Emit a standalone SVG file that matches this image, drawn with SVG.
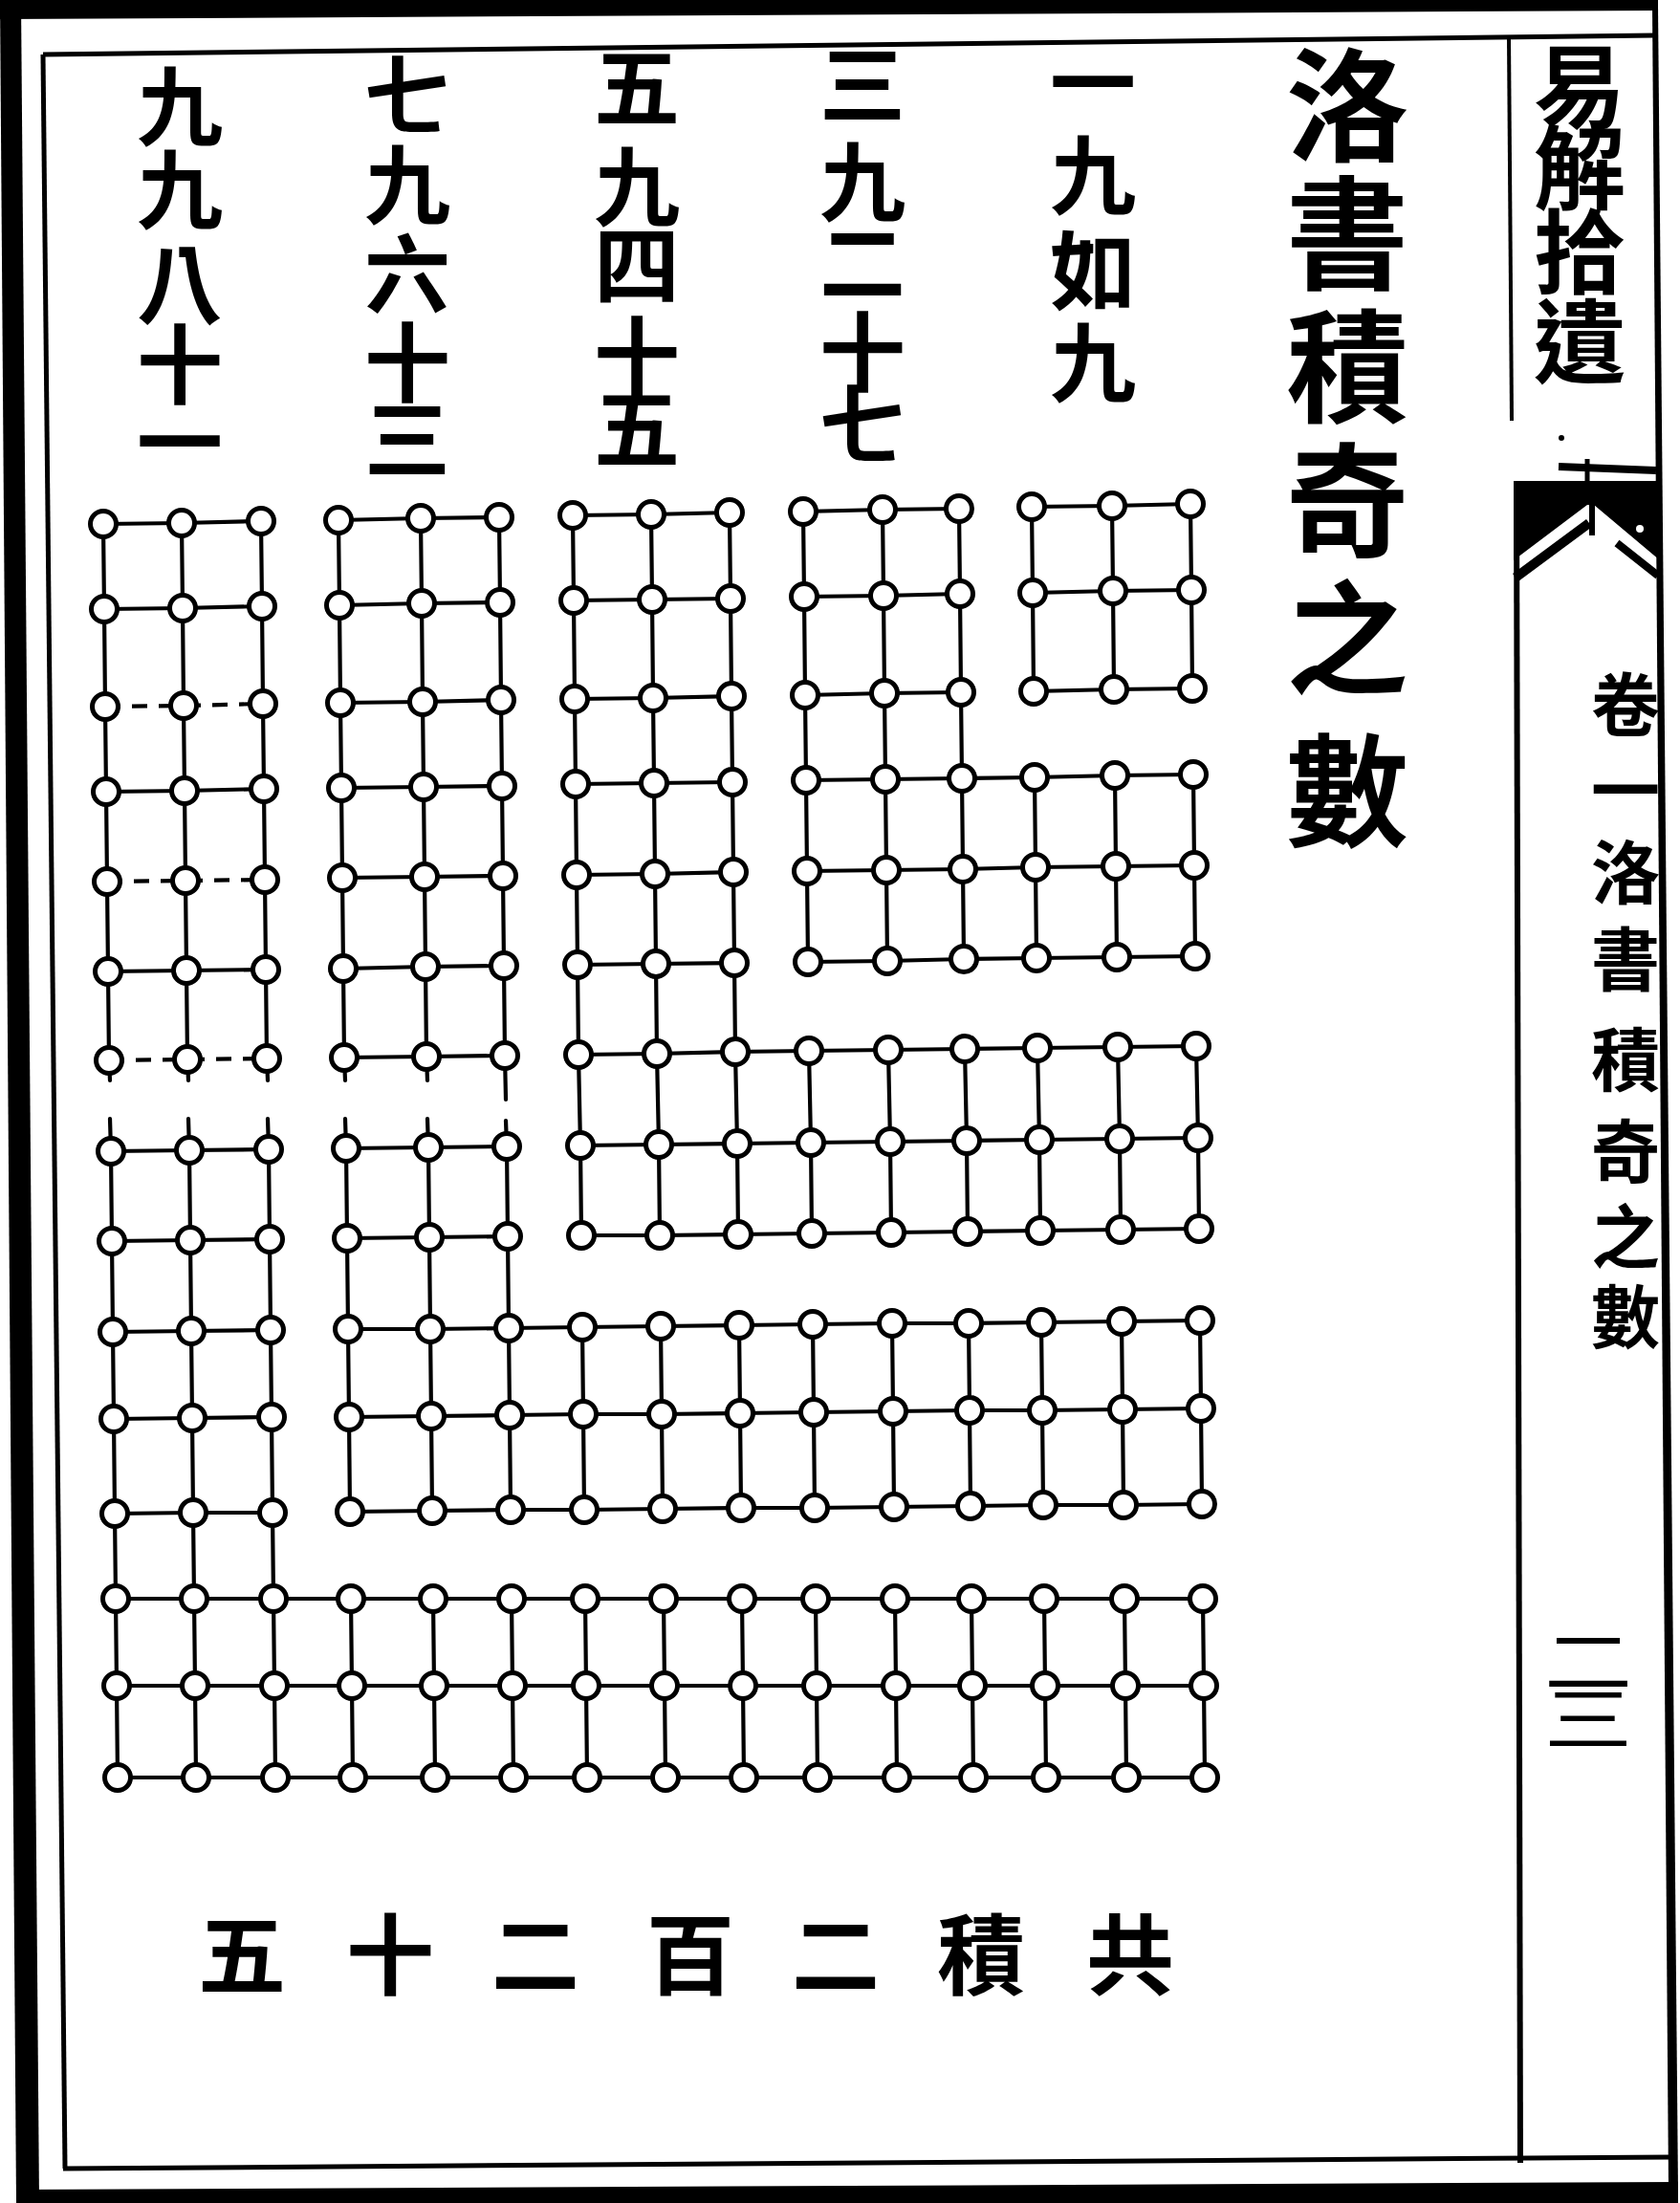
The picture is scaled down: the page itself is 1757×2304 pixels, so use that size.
<svg xmlns="http://www.w3.org/2000/svg" width="1757" height="2304" viewBox="0 0 1757 2304">
<style>
.ink{fill:#000}
.rule{stroke:#000;fill:none;stroke-linecap:butt}
.ln polyline,.ln line{stroke:#000;stroke-width:4.2;fill:none;stroke-linejoin:round;stroke-linecap:round}
.ln .brk{stroke-dasharray:16 12;stroke-linecap:butt}
.t{font-family:"Liberation Serif","Noto Sans CJK TC","Noto Sans CJK SC",serif;fill:#000;text-anchor:middle;dominant-baseline:central;font-weight:bold}
.col{font-size:90px}
.big{font-size:128px}
.hd{font-size:96px}
.sm{font-size:72px}
.tot{font-size:92px}
</style>
<defs>
<circle id="d" r="13.5" fill="#fff" stroke="#000" stroke-width="5"/>
</defs>
<rect width="1757" height="2304" fill="#fff"/>
<g id="frame">
<polygon class="ink" points="0,0 1734,0 1734,11 0,20"/>
<polygon class="ink" points="0,0 22,0 41,2304 17,2304"/>
<polygon class="ink" points="17,2290 1755,2282 1755,2304 17,2304"/>
<polygon class="ink" points="1728,6 1734,6 1755,2290 1745,2290"/>
<line class="rule" stroke-width="5" x1="45" y1="57" x2="1731" y2="37"/>
<line class="rule" stroke-width="5" x1="45" y1="57" x2="68" y2="2268"/>
<line class="rule" stroke-width="5" x1="66" y1="2268" x2="1750" y2="2256"/>
<line class="rule" stroke-width="4" x1="1578" y1="38" x2="1581" y2="440"/>
<line class="rule" stroke-width="6" x1="1586" y1="505" x2="1590" y2="2262"/>
</g>
<g id="fishtail">
<line class="rule" stroke-width="8" x1="1630" y1="488" x2="1732" y2="492"/>
<line class="rule" stroke-width="5" x1="1660" y1="480" x2="1660" y2="506"/>
<circle class="ink" cx="1633" cy="458" r="3"/>
<polygon class="ink" points="1583,503 1736,503 1736,586 1667,528 1660,528 1583,586"/>
<line class="rule" stroke-width="10" x1="1662" y1="547" x2="1585" y2="604"/>
<line class="rule" stroke-width="8" x1="1691" y1="568" x2="1734" y2="602"/>
<line class="rule" stroke-width="6" x1="1665" y1="528" x2="1665" y2="560"/>
<circle cx="1715" cy="553" r="4" fill="#fff"/>
</g>
<g id="panel-title"><text class="t hd" x="1652 1652 1652 1652" y="93 178 266 360">易解拾遺</text></g>
<g id="panel-chapter"><text class="t sm" x="1700 1700 1700 1700 1700 1700 1700 1700" y="740 829 915 1006 1111 1207 1296 1380">卷一洛書積奇之數</text></g>
<g id="page-number"><text class="t" style="font-size:92px;font-weight:normal" transform="translate(0,1775) scale(1,0.8)" x="1661 1661" y="-44 31">二三</text></g>
<g id="title"><text class="t big" x="1409 1409 1409 1409 1409 1409" y="116 250 389 529 673 833">洛書積奇之數</text></g>
<g id="label-1"><text class="t col" x="1143 1143 1143 1143" y="89 186 286 382">一九如九</text></g>
<g id="label-3"><text class="t col" x="902 902 902 902 902" y="91 193 277 371 446">三九二十七</text></g>
<g id="label-5"><text class="t col" x="666 666 666 666 666" y="94 198 280 376 451">五九四十五</text></g>
<g id="label-7"><text class="t col" x="426 426 426 426 426" y="102 196 289 382 462">七九六十三</text></g>
<g id="label-9"><text class="t col" x="188 188 188 188 188" y="114 201 300 384 465">九九八十一</text></g>
<g id="total"><text class="t tot" x="1182 1026 874 722 560 408 253" y="2048 2048 2048 2048 2048 2048 2048">共積二百二十五</text></g>

<g id="gnomon-1">
<g class="ln">
<polyline points="1079,530 1163,529 1245,527"/>
<polyline points="1080,620 1164,618 1246,617"/>
<polyline points="1081,723 1165,721 1247,720"/>
<polyline points="1079,530 1080,620 1081,723"/>
<polyline points="1163,529 1164,618 1165,721"/>
<polyline points="1245,527 1246,617 1247,720"/>
</g>
<g>
<use href="#d" x="1079" y="530"/><use href="#d" x="1163" y="529"/><use href="#d" x="1245" y="527"/>
<use href="#d" x="1080" y="620"/><use href="#d" x="1164" y="618"/><use href="#d" x="1246" y="617"/>
<use href="#d" x="1081" y="723"/><use href="#d" x="1165" y="721"/><use href="#d" x="1247" y="720"/>
</g>
</g>

<g id="gnomon-2">
<g class="ln">
<polyline points="840,535 923,533 1003,532"/>
<polyline points="841,624 924,623 1004,621"/>
<polyline points="842,727 925,725 1005,724"/>
<polyline points="843,816 926,815 1006,814 1082,813 1166,811 1248,810"/>
<polyline points="844,911 927,910 1007,909 1083,907 1167,906 1249,905"/>
<polyline points="845,1006 928,1005 1008,1003 1084,1002 1168,1001 1250,1000"/>
<polyline points="840,535 841,624 842,727 843,816 844,911 845,1006"/>
<polyline points="923,533 924,623 925,725 926,815 927,910 928,1005"/>
<polyline points="1003,532 1004,621 1005,724 1006,814 1007,909 1008,1003"/>
<polyline points="1082,813 1083,907 1084,1002"/>
<polyline points="1166,811 1167,906 1168,1001"/>
<polyline points="1248,810 1249,905 1250,1000"/>
</g>
<g>
<use href="#d" x="840" y="535"/><use href="#d" x="923" y="533"/><use href="#d" x="1003" y="532"/>
<use href="#d" x="841" y="624"/><use href="#d" x="924" y="623"/><use href="#d" x="1004" y="621"/>
<use href="#d" x="842" y="727"/><use href="#d" x="925" y="725"/><use href="#d" x="1005" y="724"/>
<use href="#d" x="843" y="816"/><use href="#d" x="926" y="815"/><use href="#d" x="1006" y="814"/><use href="#d" x="1082" y="813"/><use href="#d" x="1166" y="811"/><use href="#d" x="1248" y="810"/>
<use href="#d" x="844" y="911"/><use href="#d" x="927" y="910"/><use href="#d" x="1007" y="909"/><use href="#d" x="1083" y="907"/><use href="#d" x="1167" y="906"/><use href="#d" x="1249" y="905"/>
<use href="#d" x="845" y="1006"/><use href="#d" x="928" y="1005"/><use href="#d" x="1008" y="1003"/><use href="#d" x="1084" y="1002"/><use href="#d" x="1168" y="1001"/><use href="#d" x="1250" y="1000"/>
</g>
</g>

<g id="gnomon-3">
<g class="ln">
<polyline points="599,539 681,538 763,536"/>
<polyline points="600,628 682,627 764,626"/>
<polyline points="601,731 683,730 765,728"/>
<polyline points="602,820 684,819 766,818"/>
<polyline points="603,915 685,914 767,912"/>
<polyline points="604,1009 686,1008 768,1007"/>
<polyline points="605,1103 687,1102 769,1100 846,1099 929,1098 1009,1097 1085,1096 1169,1095 1251,1094"/>
<polyline points="607,1198 689,1197 771,1196 848,1195 931,1194 1011,1193 1087,1192 1171,1191 1253,1190"/>
<polyline points="608,1292 690,1292 772,1291 849,1290 932,1289 1012,1288 1088,1287 1172,1286 1254,1285"/>
<polyline points="599,539 600,628 601,731 602,820 603,915 604,1009 605,1103 607,1198 608,1292"/>
<polyline points="681,538 682,627 683,730 684,819 685,914 686,1008 687,1102 689,1197 690,1292"/>
<polyline points="763,536 764,626 765,728 766,818 767,912 768,1007 769,1100 771,1196 772,1291"/>
<polyline points="846,1099 848,1195 849,1290"/>
<polyline points="929,1098 931,1194 932,1289"/>
<polyline points="1009,1097 1011,1193 1012,1288"/>
<polyline points="1085,1096 1087,1192 1088,1287"/>
<polyline points="1169,1095 1171,1191 1172,1286"/>
<polyline points="1251,1094 1253,1190 1254,1285"/>
</g>
<g>
<use href="#d" x="599" y="539"/><use href="#d" x="681" y="538"/><use href="#d" x="763" y="536"/>
<use href="#d" x="600" y="628"/><use href="#d" x="682" y="627"/><use href="#d" x="764" y="626"/>
<use href="#d" x="601" y="731"/><use href="#d" x="683" y="730"/><use href="#d" x="765" y="728"/>
<use href="#d" x="602" y="820"/><use href="#d" x="684" y="819"/><use href="#d" x="766" y="818"/>
<use href="#d" x="603" y="915"/><use href="#d" x="685" y="914"/><use href="#d" x="767" y="912"/>
<use href="#d" x="604" y="1009"/><use href="#d" x="686" y="1008"/><use href="#d" x="768" y="1007"/>
<use href="#d" x="605" y="1103"/><use href="#d" x="687" y="1102"/><use href="#d" x="769" y="1100"/><use href="#d" x="846" y="1099"/><use href="#d" x="929" y="1098"/><use href="#d" x="1009" y="1097"/><use href="#d" x="1085" y="1096"/><use href="#d" x="1169" y="1095"/><use href="#d" x="1251" y="1094"/>
<use href="#d" x="607" y="1198"/><use href="#d" x="689" y="1197"/><use href="#d" x="771" y="1196"/><use href="#d" x="848" y="1195"/><use href="#d" x="931" y="1194"/><use href="#d" x="1011" y="1193"/><use href="#d" x="1087" y="1192"/><use href="#d" x="1171" y="1191"/><use href="#d" x="1253" y="1190"/>
<use href="#d" x="608" y="1292"/><use href="#d" x="690" y="1292"/><use href="#d" x="772" y="1291"/><use href="#d" x="849" y="1290"/><use href="#d" x="932" y="1289"/><use href="#d" x="1012" y="1288"/><use href="#d" x="1088" y="1287"/><use href="#d" x="1172" y="1286"/><use href="#d" x="1254" y="1285"/>
</g>
</g>

<g id="gnomon-4">
<g class="ln">
<polyline points="354,544 440,542 522,541"/>
<polyline points="355,633 441,631 523,630"/>
<polyline points="356,735 442,734 524,732"/>
<polyline points="357,824 443,823 525,822"/>
<polyline points="358,918 444,917 526,916"/>
<polyline points="359,1013 445,1011 527,1010"/>
<polyline points="360,1106 446,1105 528,1104"/>
<polyline points="362,1201 448,1200 530,1199"/>
<polyline points="363,1295 449,1294 531,1293"/>
<polyline points="364,1390 450,1390 532,1389 609,1388 691,1387 773,1386 850,1385 933,1384 1013,1384 1089,1383 1173,1382 1255,1381"/>
<polyline points="365,1482 451,1481 533,1480 610,1479 692,1479 774,1478 851,1477 934,1476 1014,1475 1090,1475 1174,1474 1256,1473"/>
<polyline points="366,1581 452,1580 534,1579 611,1579 693,1578 775,1577 852,1577 935,1576 1015,1575 1091,1574 1175,1574 1257,1573"/>
<polyline points="354,544 355,633 356,735 357,824 358,918 359,1013 360,1106 361,1130"/>
<polyline points="361,1170 362,1201 363,1295 364,1390 365,1482 366,1581"/>
<polyline points="440,542 441,631 442,734 443,823 444,917 445,1011 446,1105 447,1130"/>
<polyline points="447,1170 448,1200 449,1294 450,1390 451,1481 452,1580"/>
<polyline points="522,541 523,630 524,732 525,822 526,916 527,1010 528,1104 529,1150"/>
<polyline points="529,1172 530,1199 531,1293 532,1389 533,1480 534,1579"/>
<polyline points="609,1388 610,1479 611,1579"/>
<polyline points="691,1387 692,1479 693,1578"/>
<polyline points="773,1386 774,1478 775,1577"/>
<polyline points="850,1385 851,1477 852,1577"/>
<polyline points="933,1384 934,1476 935,1576"/>
<polyline points="1013,1384 1014,1475 1015,1575"/>
<polyline points="1089,1383 1090,1475 1091,1574"/>
<polyline points="1173,1382 1174,1474 1175,1574"/>
<polyline points="1255,1381 1256,1473 1257,1573"/>
</g>
<g>
<use href="#d" x="354" y="544"/><use href="#d" x="440" y="542"/><use href="#d" x="522" y="541"/>
<use href="#d" x="355" y="633"/><use href="#d" x="441" y="631"/><use href="#d" x="523" y="630"/>
<use href="#d" x="356" y="735"/><use href="#d" x="442" y="734"/><use href="#d" x="524" y="732"/>
<use href="#d" x="357" y="824"/><use href="#d" x="443" y="823"/><use href="#d" x="525" y="822"/>
<use href="#d" x="358" y="918"/><use href="#d" x="444" y="917"/><use href="#d" x="526" y="916"/>
<use href="#d" x="359" y="1013"/><use href="#d" x="445" y="1011"/><use href="#d" x="527" y="1010"/>
<use href="#d" x="360" y="1106"/><use href="#d" x="446" y="1105"/><use href="#d" x="528" y="1104"/>
<use href="#d" x="362" y="1201"/><use href="#d" x="448" y="1200"/><use href="#d" x="530" y="1199"/>
<use href="#d" x="363" y="1295"/><use href="#d" x="449" y="1294"/><use href="#d" x="531" y="1293"/>
<use href="#d" x="364" y="1390"/><use href="#d" x="450" y="1390"/><use href="#d" x="532" y="1389"/><use href="#d" x="609" y="1388"/><use href="#d" x="691" y="1387"/><use href="#d" x="773" y="1386"/><use href="#d" x="850" y="1385"/><use href="#d" x="933" y="1384"/><use href="#d" x="1013" y="1384"/><use href="#d" x="1089" y="1383"/><use href="#d" x="1173" y="1382"/><use href="#d" x="1255" y="1381"/>
<use href="#d" x="365" y="1482"/><use href="#d" x="451" y="1481"/><use href="#d" x="533" y="1480"/><use href="#d" x="610" y="1479"/><use href="#d" x="692" y="1479"/><use href="#d" x="774" y="1478"/><use href="#d" x="851" y="1477"/><use href="#d" x="934" y="1476"/><use href="#d" x="1014" y="1475"/><use href="#d" x="1090" y="1475"/><use href="#d" x="1174" y="1474"/><use href="#d" x="1256" y="1473"/>
<use href="#d" x="366" y="1581"/><use href="#d" x="452" y="1580"/><use href="#d" x="534" y="1579"/><use href="#d" x="611" y="1579"/><use href="#d" x="693" y="1578"/><use href="#d" x="775" y="1577"/><use href="#d" x="852" y="1577"/><use href="#d" x="935" y="1576"/><use href="#d" x="1015" y="1575"/><use href="#d" x="1091" y="1574"/><use href="#d" x="1175" y="1574"/><use href="#d" x="1257" y="1573"/>
</g>
</g>

<g id="gnomon-5">
<g class="ln">
<polyline points="108,548 190,547 273,545"/>
<polyline points="109,637 191,636 274,634"/>
<polyline class="brk" points="110,739 192,738 275,736"/>
<polyline points="111,828 193,827 276,825"/>
<polyline class="brk" points="112,922 194,921 277,920"/>
<polyline points="113,1016 195,1015 278,1014"/>
<polyline class="brk" points="114,1109 196,1108 279,1107"/>
<polyline points="116,1204 198,1203 281,1202"/>
<polyline points="117,1298 199,1297 282,1296"/>
<polyline points="118,1393 200,1392 283,1391"/>
<polyline points="119,1484 201,1483 284,1482"/>
<polyline points="120,1583 202,1582 285,1582"/>
<line x1="121" y1="1672" x2="1258" y2="1672"/>
<line x1="122" y1="1763" x2="1259" y2="1763"/>
<line x1="123" y1="1859" x2="1260" y2="1859"/>
<polyline points="108,548 109,637 110,739 111,828 112,922 113,1016 114,1109 115,1130"/>
<polyline points="115,1170 116,1204 117,1298 118,1393 119,1484 120,1583 121,1672 122,1763 123,1859"/>
<polyline points="190,547 191,636 192,738 193,827 194,921 195,1015 196,1108 197,1130"/>
<polyline points="197,1170 198,1203 199,1297 200,1392 201,1483 202,1582 203,1672 204,1763 205,1859"/>
<polyline points="273,545 274,634 275,736 276,825 277,920 278,1014 279,1107 280,1130"/>
<polyline points="280,1170 281,1202 282,1296 283,1391 284,1482 285,1582 286,1672 287,1763 288,1859"/>
<polyline points="367,1672 368,1763 369,1859"/>
<polyline points="453,1672 454,1763 455,1859"/>
<polyline points="535,1672 536,1763 537,1859"/>
<polyline points="612,1672 613,1763 614,1859"/>
<polyline points="694,1672 695,1763 696,1859"/>
<polyline points="776,1672 777,1763 778,1859"/>
<polyline points="853,1672 854,1763 855,1859"/>
<polyline points="936,1672 937,1763 938,1859"/>
<polyline points="1016,1672 1017,1763 1018,1859"/>
<polyline points="1092,1672 1093,1763 1094,1859"/>
<polyline points="1176,1672 1177,1763 1178,1859"/>
<polyline points="1258,1672 1259,1763 1260,1859"/>
</g>
<g>
<use href="#d" x="108" y="548"/><use href="#d" x="190" y="547"/><use href="#d" x="273" y="545"/>
<use href="#d" x="109" y="637"/><use href="#d" x="191" y="636"/><use href="#d" x="274" y="634"/>
<use href="#d" x="110" y="739"/><use href="#d" x="192" y="738"/><use href="#d" x="275" y="736"/>
<use href="#d" x="111" y="828"/><use href="#d" x="193" y="827"/><use href="#d" x="276" y="825"/>
<use href="#d" x="112" y="922"/><use href="#d" x="194" y="921"/><use href="#d" x="277" y="920"/>
<use href="#d" x="113" y="1016"/><use href="#d" x="195" y="1015"/><use href="#d" x="278" y="1014"/>
<use href="#d" x="114" y="1109"/><use href="#d" x="196" y="1108"/><use href="#d" x="279" y="1107"/>
<use href="#d" x="116" y="1204"/><use href="#d" x="198" y="1203"/><use href="#d" x="281" y="1202"/>
<use href="#d" x="117" y="1298"/><use href="#d" x="199" y="1297"/><use href="#d" x="282" y="1296"/>
<use href="#d" x="118" y="1393"/><use href="#d" x="200" y="1392"/><use href="#d" x="283" y="1391"/>
<use href="#d" x="119" y="1484"/><use href="#d" x="201" y="1483"/><use href="#d" x="284" y="1482"/>
<use href="#d" x="120" y="1583"/><use href="#d" x="202" y="1582"/><use href="#d" x="285" y="1582"/>
<use href="#d" x="121" y="1672"/><use href="#d" x="203" y="1672"/><use href="#d" x="286" y="1672"/><use href="#d" x="367" y="1672"/><use href="#d" x="453" y="1672"/><use href="#d" x="535" y="1672"/><use href="#d" x="612" y="1672"/><use href="#d" x="694" y="1672"/><use href="#d" x="776" y="1672"/><use href="#d" x="853" y="1672"/><use href="#d" x="936" y="1672"/><use href="#d" x="1016" y="1672"/><use href="#d" x="1092" y="1672"/><use href="#d" x="1176" y="1672"/><use href="#d" x="1258" y="1672"/>
<use href="#d" x="122" y="1763"/><use href="#d" x="204" y="1763"/><use href="#d" x="287" y="1763"/><use href="#d" x="368" y="1763"/><use href="#d" x="454" y="1763"/><use href="#d" x="536" y="1763"/><use href="#d" x="613" y="1763"/><use href="#d" x="695" y="1763"/><use href="#d" x="777" y="1763"/><use href="#d" x="854" y="1763"/><use href="#d" x="937" y="1763"/><use href="#d" x="1017" y="1763"/><use href="#d" x="1093" y="1763"/><use href="#d" x="1177" y="1763"/><use href="#d" x="1259" y="1763"/>
<use href="#d" x="123" y="1859"/><use href="#d" x="205" y="1859"/><use href="#d" x="288" y="1859"/><use href="#d" x="369" y="1859"/><use href="#d" x="455" y="1859"/><use href="#d" x="537" y="1859"/><use href="#d" x="614" y="1859"/><use href="#d" x="696" y="1859"/><use href="#d" x="778" y="1859"/><use href="#d" x="855" y="1859"/><use href="#d" x="938" y="1859"/><use href="#d" x="1018" y="1859"/><use href="#d" x="1094" y="1859"/><use href="#d" x="1178" y="1859"/><use href="#d" x="1260" y="1859"/>
</g>
</g>
</svg>
